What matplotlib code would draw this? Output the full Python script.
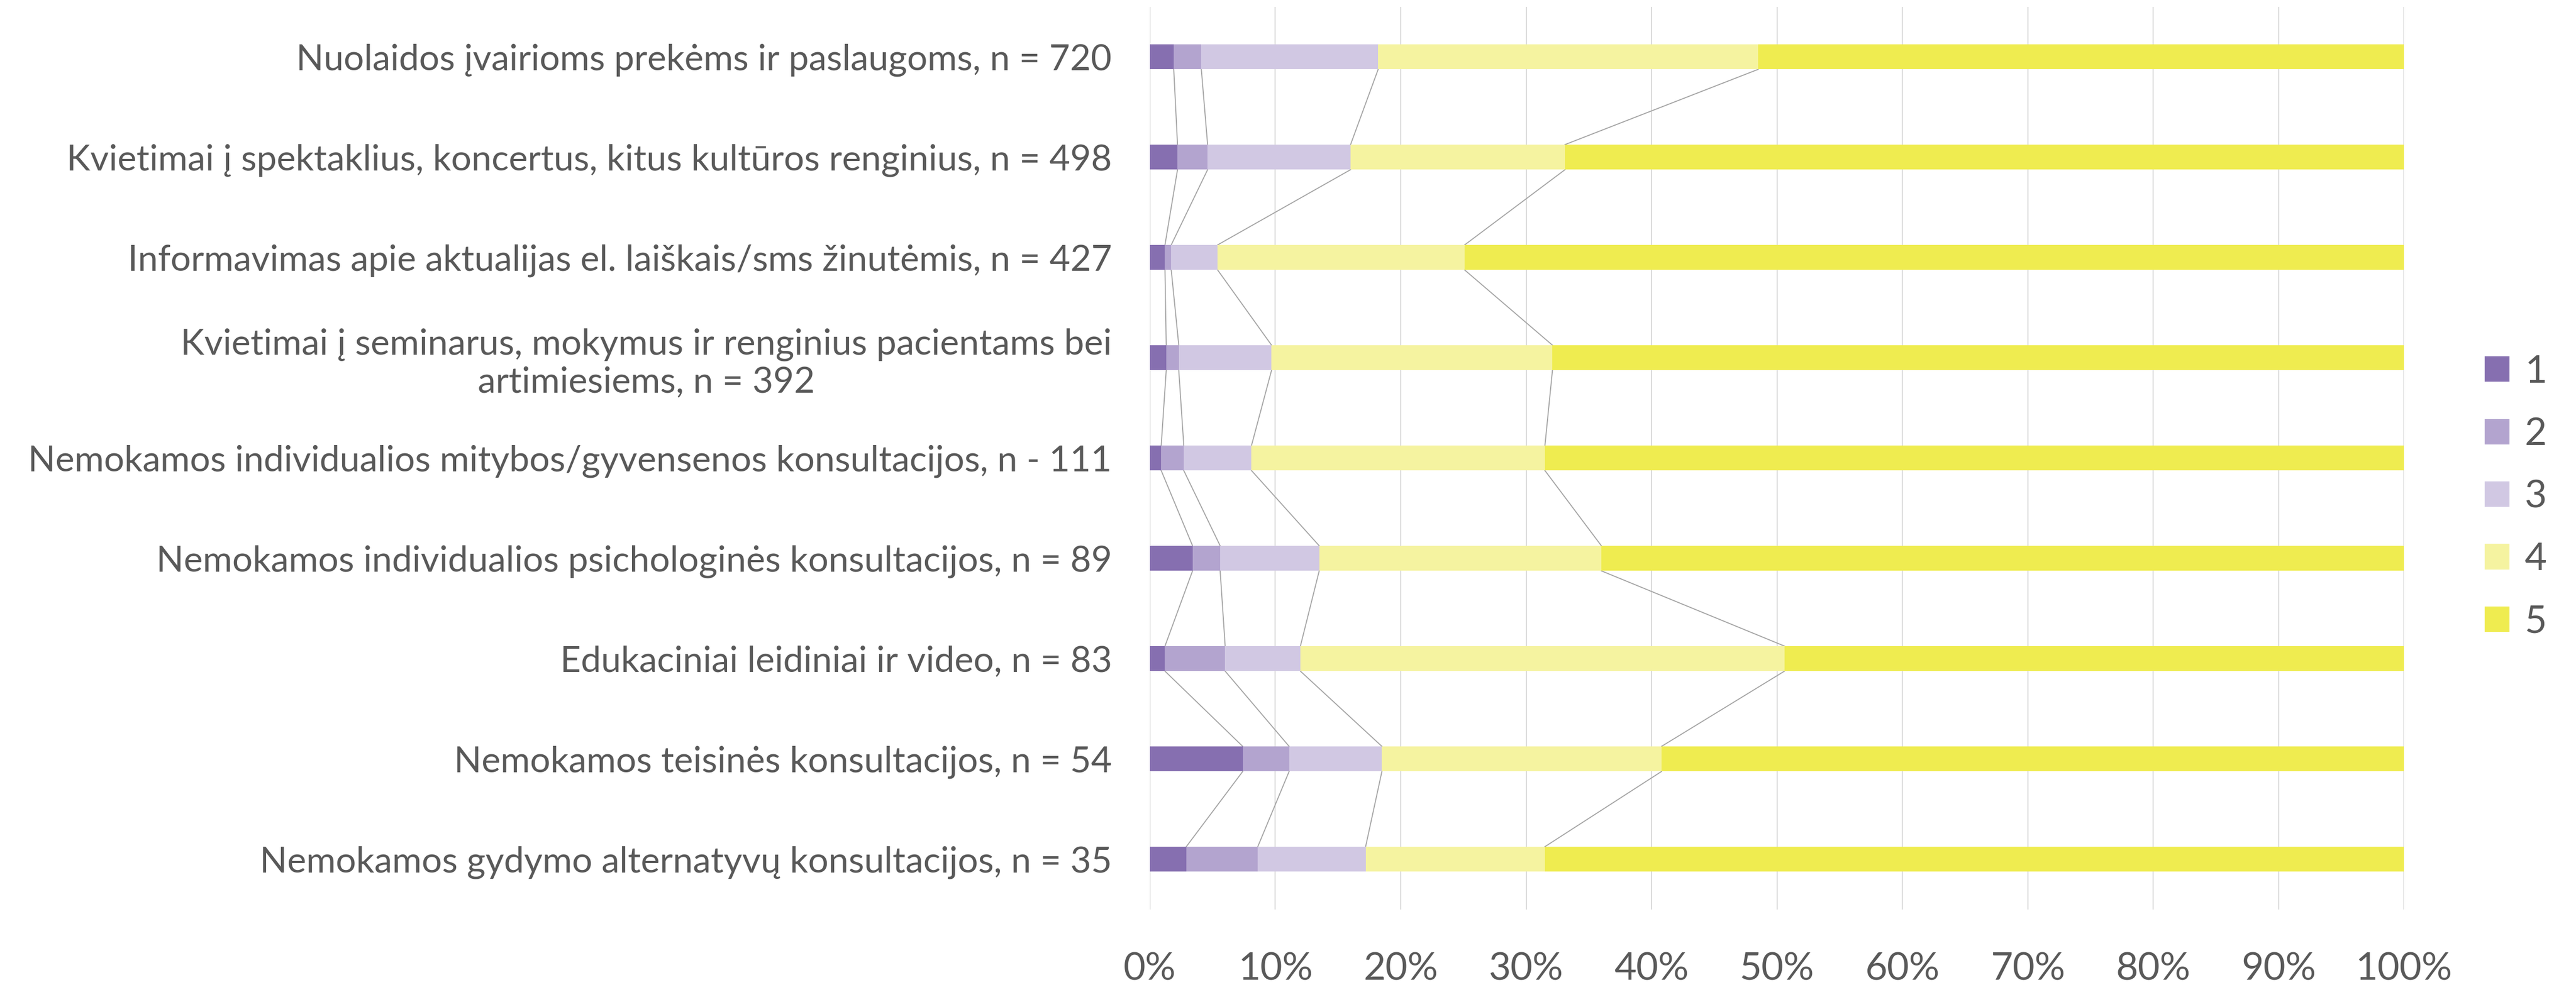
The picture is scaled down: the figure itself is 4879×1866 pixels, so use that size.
import matplotlib
matplotlib.use("Agg")
import matplotlib.pyplot as plt
import numpy as np

# categories, top to bottom
categories = [
    "Nuolaidos įvairioms prekėms ir paslaugoms, n = 720",
    "Kvietimai į spektaklius, koncertus, kitus kultūros renginius, n = 498",
    "Informavimas apie aktualijas el. laiškais/sms žinutėmis, n = 427",
    "Kvietimai į seminarus, mokymus ir renginius pacientams bei\nartimiesiems, n = 392",
    "Nemokamos individualios mitybos/gyvensenos konsultacijos, n - 111",
    "Nemokamos individualios psichologinės konsultacijos, n = 89",
    "Edukaciniai leidiniai ir video, n = 83",
    "Nemokamos teisinės konsultacijos, n = 54",
    "Nemokamos gydymo alternatyvų konsultacijos, n = 35",
]

# share of answers (%) per score
score_1 = [1.9, 2.2, 1.2, 1.3, 0.9, 3.4, 1.2, 7.4, 2.9]
score_2 = [2.2, 2.4, 0.5, 1.0, 1.8, 2.2, 4.8, 3.7, 5.7]
score_3 = [14.1, 11.4, 3.7, 7.4, 5.4, 7.9, 6.0, 7.4, 8.6]
score_4 = [30.3, 17.1, 19.7, 22.4, 23.4, 22.5, 38.6, 22.3, 14.3]
score_5 = [51.5, 66.9, 74.9, 67.9, 68.5, 64.0, 49.4, 59.2, 68.5]

series_names = ["1", "2", "3", "4", "5"]
colors = ["#866FB0", "#B3A4CF", "#D1C8E3", "#F5F3A0", "#EFEC50"]

TEXT = "#595959"
FONT = ["Lato", "DejaVu Sans"]
BAR_H = 0.25


def _main():
    plt.rcParams["font.family"] = FONT
    fig = plt.figure(figsize=(48.79, 18.66), dpi=100)
    ax = fig.add_axes([0.4464, 0.0768, 0.4868, 0.9164])

    data = np.array([score_1, score_2, score_3, score_4, score_5])
    y = np.arange(len(categories))
    left = np.zeros(len(categories))
    bounds = []
    for vals, name, col in zip(data, series_names, colors):
        ax.barh(y, vals, left=left, height=BAR_H, color=col,
                label=name, zorder=3)
        left = left + vals
        bounds.append(left.copy())

    # excel style series lines between neighbouring bars
    for b in bounds[:-1]:
        for i in range(len(categories) - 1):
            ax.plot([b[i], b[i + 1]],
                    [y[i] + BAR_H / 2, y[i + 1] - BAR_H / 2],
                    color="#A5A5A5", lw=1.4, zorder=2)

    ax.set_xlim(0, 100)
    ax.set_ylim(len(categories) - 0.5, -0.5)
    ax.set_xticks(np.arange(0, 101, 10))
    ax.set_xticklabels([f"{v}%" for v in range(0, 101, 10)])
    ax.set_yticks(y)
    ax.set_yticklabels(categories, multialignment="center",
                       linespacing=1.2)
    ax.grid(axis="x", color="#D9D9D9", lw=1.5, zorder=0)
    ax.set_axisbelow(True)
    for s in ax.spines.values():
        s.set_visible(False)
    ax.tick_params(axis="both", length=0, colors=TEXT)
    ax.tick_params(axis="y", labelsize=49, pad=52)
    ax.tick_params(axis="x", labelsize=52, pad=58)

    fig.legend(loc="center left", bbox_to_anchor=(0.9645, 0.4957),
               frameon=False, fontsize=52, handlelength=0.65,
               handleheight=0.65, handletextpad=0.4, labelspacing=0.74,
               borderpad=0, borderaxespad=0, labelcolor=TEXT)

    fig.savefig("out.png", dpi=100, facecolor="white")


if __name__ == "__main__":
    _main()
